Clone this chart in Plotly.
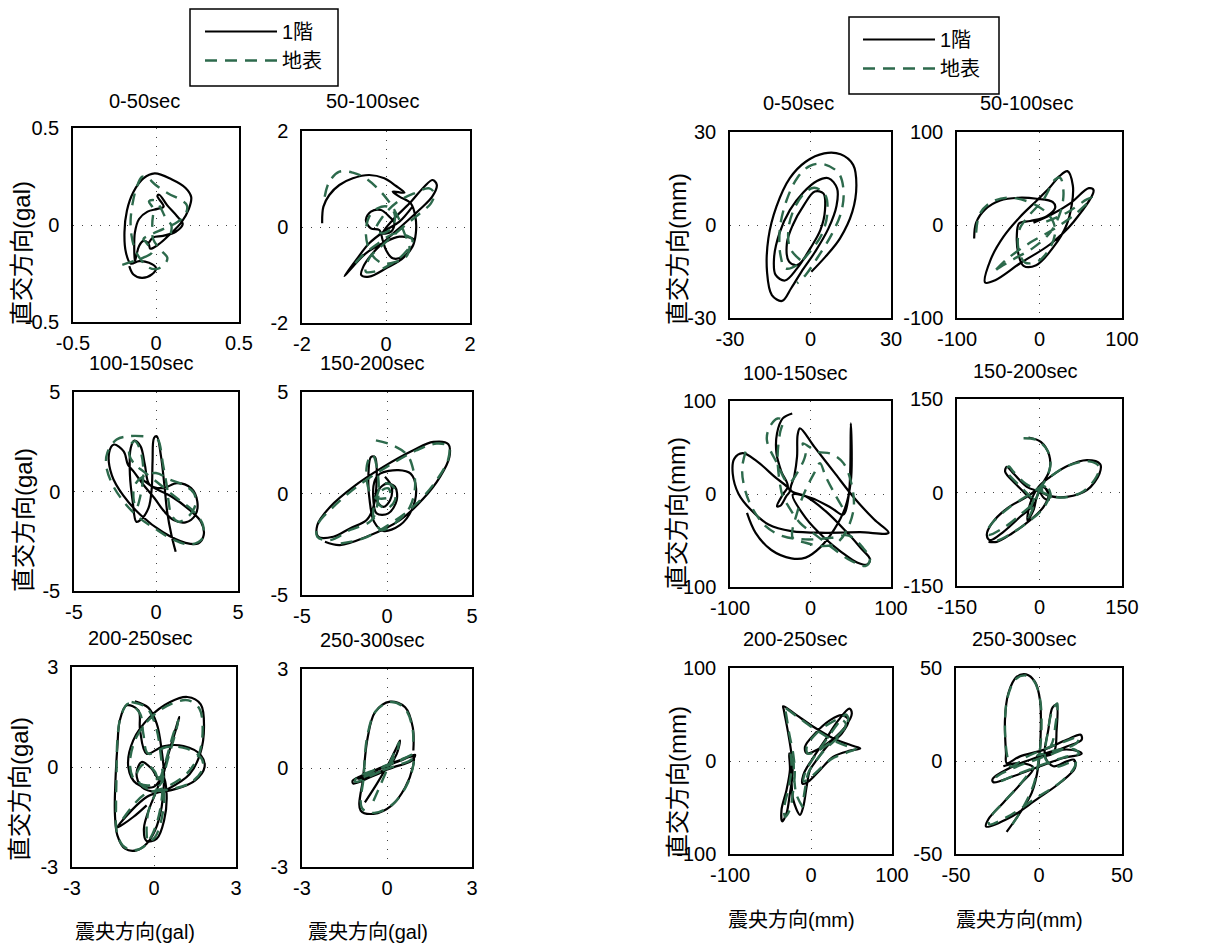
import plotly.graph_objects as go

W, H = 1230, 947
FONT = "Liberation Sans, Arial, Noto Sans CJK JP, sans-serif"
BLACK = "#000000"
GREEN = "#2d6a4c"

SERIES_NAMES = ["1階", "地表"]
TITLES = ["0-50sec", "50-100sec", "100-150sec", "150-200sec", "200-250sec", "250-300sec"]
Y_LABEL_ACC = "直交方向(gal)"
Y_LABEL_DISP = "直交方向(mm)"
X_LABEL_ACC = "震央方向(gal)"
X_LABEL_DISP = "震央方向(mm)"

ACC_LIMITS = [0.5, 2, 5, 5, 3, 3]
DISP_LIMITS = [30, 100, 100, 150, 100, 50]
ACC_TICKS = [["-0.5", "0", "0.5"], ["-2", "0", "2"], ["-5", "0", "5"],
             ["-5", "0", "5"], ["-3", "0", "3"], ["-3", "0", "3"]]
DISP_TICKS = [["-30", "0", "30"], ["-100", "0", "100"], ["-100", "0", "100"],
              ["-150", "0", "150"], ["-100", "0", "100"], ["-50", "0", "50"]]

# ---------------- acceleration orbits (gal) ----------------
ACC_0_50_FLOOR = [(-0.161,-0.212),(-0.136,-0.255),(-0.085,-0.273),(-0.025,-0.255),(0.0,-0.221),
    (-0.042,-0.194),(-0.102,-0.186),(-0.153,-0.198),(-0.181,-0.142),(-0.190,-0.038),(-0.175,0.075),
    (-0.136,0.170),(-0.076,0.240),(-0.008,0.266),(0.093,0.236),(0.178,0.191),(0.212,0.144),
    (0.198,0.083),(0.153,0.014),(0.085,-0.047),(0.017,-0.099),(-0.034,-0.122),(-0.046,-0.094),
    (-0.076,-0.082),(-0.102,-0.108),(-0.119,-0.160),(-0.127,-0.186),(-0.131,-0.125),(-0.127,-0.038),
    (-0.102,0.031),(-0.051,0.069),(0.008,0.083),(0.046,0.095),(0.008,0.149),(0.019,0.156),
    (0.068,0.101),(0.127,0.045),(0.161,0.005),(0.119,-0.035),(0.042,-0.056),(-0.017,-0.064),(-0.042,-0.090)]
ACC_0_50_GROUND = [(-0.203,-0.205),(-0.136,-0.186),(-0.076,-0.168),(-0.025,-0.142),(-0.059,-0.090),
    (-0.076,-0.073),(-0.025,-0.047),(0.042,-0.021),(0.127,0.014),(0.178,0.056),(0.186,0.101),
    (0.144,0.132),(0.076,0.161),(0.0,0.205),(-0.059,0.248),(-0.085,0.248),(-0.119,0.188),
    (-0.141,0.111),(-0.153,0.023),(-0.147,-0.056),(-0.127,-0.125),(-0.093,-0.177),(-0.042,-0.220),
    (0.008,-0.226),(0.059,-0.194),(0.068,-0.168),(0.034,-0.134),(-0.017,-0.073),(-0.022,0.014),
    (-0.017,0.083),(-0.042,0.122),(-0.005,0.127),(0.029,0.087),(0.056,0.040),(0.093,-0.003),(0.085,-0.056)]

ACC_50_100_FLOOR = [(-1.52,0.076),(-1.49,0.424),(-1.35,0.667),(-1.11,0.875),(-0.79,1.014),(-0.40,1.083),
    (-0.04,1.014),(0.24,0.854),(0.44,0.715),(0.16,0.736),(0.32,0.632),(0.59,0.493),(0.70,0.215),
    (0.71,-0.132),(0.63,-0.410),(0.44,-0.604),(0.16,-0.653),(0.0,-0.479),(-0.08,-0.271),(-0.16,-0.063),
    (-0.36,-0.028),(-0.48,0.146),(-0.36,0.319),(-0.12,0.354),(0.08,0.215),(0.20,0.076),(0.12,-0.097),
    (-0.08,-0.132),(0.16,0.146),(0.56,0.493),(0.91,0.840),(1.11,0.979),(1.21,0.875),(1.10,0.632),
    (0.79,0.354),(0.40,0.042),(0.0,-0.271),(-0.32,-0.549),(-0.54,-0.826),(-0.59,-1.0),(-0.40,-1.035),
    (0.0,-0.861),(0.44,-0.618),(0.67,-0.271),(0.32,-0.201),(-0.08,-0.340),(-0.48,-0.549),(-0.79,-0.826),
    (-0.99,-1.021),(-0.71,-0.688),(-0.40,-0.340),(0.0,-0.063),(0.32,0.111),(0.63,0.424)]
ACC_50_100_GROUND = [(-1.46,0.632),(-1.35,0.944),(-1.11,1.153),(-0.79,1.132),(-0.48,1.014),(-0.20,0.806),
    (0.04,0.563),(0.20,0.354),(0.32,0.146),(0.44,-0.132),(0.56,-0.410),(0.48,-0.618),(0.24,-0.722),
    (-0.08,-0.757),(-0.36,-0.549),(-0.48,-0.132),(-0.40,0.215),(-0.20,0.389),(0.04,0.424),(0.20,0.285),
    (0.16,0.007),(-0.08,-0.132),(-0.24,-0.063),(-0.08,0.215),(0.28,0.528),(0.67,0.701),(1.03,0.806),
    (1.15,0.701),(1.07,0.493),(0.71,0.215),(0.32,-0.063),(-0.08,-0.375),(-0.40,-0.653),(-0.48,-0.931),
    (-0.28,-0.931),(0.08,-0.792),(0.44,-0.549),(0.63,-0.271),(0.24,-0.132),(-0.24,-0.375),(-0.63,-0.653),
    (-0.79,-0.826)]

ACC_100_150_FLOOR = [(1.20,-3.03),(0.94,-2.19),(0.68,-1.01),(0.51,0.34),(0.29,1.85),(0.05,2.78),
    (-0.12,2.69),(-0.21,1.52),(-0.26,0.17),(-0.46,-0.84),(-0.94,-1.43),(-1.20,-1.52),(-1.42,-0.51),
    (-1.59,0.84),(-1.54,2.19),(-1.32,2.56),(-0.94,2.27),(-0.68,1.35),(-0.39,0.34),(0.43,0.17),
    (1.28,0.42),(2.14,0.17),(2.52,-0.51),(2.40,-1.18),(1.80,-1.55),(1.11,-1.45),(0.51,-1.01),
    (-0.09,-0.34),(-0.77,0.34),(-1.37,1.01),(-1.71,1.35),(-1.97,2.02),(-2.57,2.36),(-2.86,1.94),
    (-2.69,0.81),(-2.00,-0.20),(-0.94,-1.18),(0.43,-2.05),(1.80,-2.58),(2.57,-2.61),(2.91,-2.19),
    (2.74,-1.52),(2.05,-0.93),(0.94,-0.25),(-0.09,0.17),(-0.94,0.67)]
ACC_100_150_GROUND = [(-0.77,2.78),(-1.63,2.78),(-2.40,2.61),(-2.97,1.94),(-3.03,1.26),(-2.65,0.34),
    (-1.97,-0.51),(-1.11,-1.26),(-0.09,-1.85),(1.11,-2.44),(2.14,-2.66),(2.83,-2.36),(2.86,-1.68),
    (2.31,-1.01),(1.28,-0.34),(0.26,0.34),(-0.77,1.01),(-1.28,1.35),(-1.63,1.85),(-1.54,2.36),
    (-1.28,2.53),(-0.94,2.02),(-0.77,1.01),(-0.94,-0.17),(-1.20,-0.84),(-1.37,-0.34),(-1.28,0.34),
    (-0.77,0.76),(0.0,0.93),(0.86,0.59),(1.63,0.34),(2.31,-0.08),(2.40,-0.67),(1.97,-1.26),
    (1.37,-1.52),(0.94,-1.18),(0.77,-0.51),(0.68,0.17),(0.43,1.35),(0.17,2.53),(0.0,2.69)]

ACC_150_200_FLOOR = [(-0.12,0.82),(0.27,0.33),(0.18,-0.33),(-0.22,-0.66),(-0.61,-0.33),(-0.51,0.16),
    (-0.02,0.49),(0.47,0.33),(0.57,-0.33),(0.08,-0.98),(-0.61,-0.98),(-0.80,-0.33),(-0.71,0.66),
    (-0.41,0.98),(0.67,1.15),(1.39,0.98),(1.71,0.25),(1.45,-0.82),(0.76,-1.56),(-0.22,-1.84),
    (-0.76,-1.39),(-1.00,-0.49),(-1.10,0.66),(-0.94,1.80),(-0.71,1.80),(-0.61,0.66),(-0.80,-0.66),
    (-1.20,-1.31),(-2.18,-1.72),(-3.16,-2.13),(-4.04,-2.13),(-4.10,-1.56),(-3.35,-0.66),(-1.98,0.33),
    (-0.22,1.31),(1.55,2.13),(2.73,2.54),(3.61,2.43),(3.67,1.80),(3.12,0.82),(2.14,-0.25),(0.76,-1.31),
    (-1.20,-2.13),(-2.77,-2.54),(-3.65,-2.38)]
ACC_150_200_GROUND = [(-0.65,2.62),(0.37,2.36),(1.20,1.89),(1.55,1.15),(1.65,0.33),(1.35,-0.66),
    (0.57,-1.39),(-0.31,-1.80),(-0.80,-1.15),(-0.61,-0.16),(-0.22,0.49),(0.37,0.33),(0.47,-0.33),
    (-0.02,-0.74),(-0.51,-0.49),(-0.41,0.08),(0.08,0.25),(0.18,-0.16),(-0.80,-0.16),(-1.20,0.66),
    (-1.10,1.64),(-0.84,1.89),(-0.57,1.15),(-0.51,-0.16),(-0.90,-1.31),(-2.18,-1.80),(-3.35,-2.30),
    (-4.10,-2.13),(-4.04,-1.48),(-3.16,-0.66),(-1.78,0.33),(-0.02,1.31),(1.75,2.13),(2.92,2.46),
    (3.61,2.33),(3.61,1.72),(2.92,0.66),(1.75,-0.49),(0.37,-1.39),(-1.39,-2.21),(-2.96,-2.49)]

ACC_200_250_FLOOR = [(-0.70,1.97),(-0.21,1.78),(0.10,1.30),(0.28,0.50),(0.37,-0.30),(0.28,-1.20),
    (0.04,-1.90),(-0.27,-2.30),(-0.64,-2.50),(-1.06,-2.45),(-1.34,-2.05),(-1.43,-1.40),(-1.41,-0.40),
    (-1.34,0.60),(-1.25,1.40),(-1.00,1.85),(-0.57,1.70),(-0.51,1.10),(-0.27,0.40),(0.34,0.62),
    (1.08,0.63),(1.72,0.35),(1.85,0.0),(1.51,-0.40),(0.83,-0.65),(0.10,-0.75),(-0.45,-0.60),
    (-0.64,-0.20),(-0.45,0.15),(-0.09,-0.05),(0.22,-0.40),(0.53,0.40),(0.83,1.20),(0.93,1.50),
    (0.81,1.20),(0.46,0.20),(0.10,-0.70),(-0.15,-1.20),(-0.37,-1.85),(-0.27,-2.22),(0.10,-2.15),
    (0.37,-1.60),(0.46,-0.80),(0.34,-0.30),(-0.02,-0.60),(-0.64,-0.50),(-0.94,0.0),(-0.76,0.80),
    (-0.15,1.50),(0.59,1.95),(1.22,2.10),(1.71,1.88),(1.83,1.20),(1.69,0.40),(1.30,-0.22),(0.53,-0.65),
    (-0.27,-0.90),(-1.25,-1.70),(-1.34,-1.82),(-0.76,-1.50),(-0.27,-1.15)]
ACC_200_250_GROUND = [(-0.82,1.95),(-0.27,1.78),(0.07,1.20),(0.24,0.40),(0.32,-0.40),(0.22,-1.30),
    (-0.05,-2.00),(-0.39,-2.40),(-0.76,-2.50),(-1.15,-2.35),(-1.37,-1.90),(-1.39,-1.20),(-1.37,-0.20),
    (-1.34,0.80),(-1.22,1.50),(-0.94,1.90),(-0.51,1.60),(-0.39,1.00),(-0.21,0.40),(0.46,0.60),
    (1.20,0.55),(1.74,0.25),(1.78,-0.05),(1.38,-0.45),(0.71,-0.65),(-0.02,-0.70),(-0.51,-0.50),
    (-0.61,-0.15),(-0.33,0.10),(0.04,-0.15),(0.20,-0.55),(0.53,0.30),(0.81,1.10),(0.89,1.40),
    (0.71,1.00),(0.40,0.10),(0.04,-0.80),(-0.21,-1.35),(-0.27,-1.95),(-0.21,-2.25),(0.04,-2.10),
    (0.28,-1.55),(0.37,-0.80),(0.22,-0.30),(-0.15,-0.55),(-0.70,-0.40),(-0.88,0.10),(-0.64,0.90),
    (-0.02,1.55),(0.71,1.92),(1.26,2.00),(1.66,1.75),(1.78,1.10),(1.63,0.35),(1.20,-0.20),(0.46,-0.60),
    (-0.39,-0.85),(-1.18,-1.60),(-1.30,-1.75)]

ACC_250_300_FLOOR = [(-0.78,-1.04),(-0.36,-0.48),(0.05,0.12),(0.40,0.73),(0.46,0.83),(0.34,0.42),
    (-0.01,-0.03),(-0.60,-0.28),(-1.19,-0.47),(-1.21,-0.38),(-0.60,-0.13),(0.11,0.12),(0.69,0.32),
    (0.99,0.40),(0.87,0.22),(0.22,0.02),(-0.48,-0.18),(-1.01,-0.33),(-0.95,-0.26),(-0.25,-0.03),
    (0.46,0.22),(0.93,0.34),(0.91,0.02),(0.64,-0.59),(0.16,-1.14),(-0.48,-1.39),(-0.93,-1.29),
    (-0.84,-0.28),(-0.68,0.93),(-0.42,1.69),(0.11,2.01),(0.64,1.84),(0.91,1.23),(0.93,0.53)]
ACC_250_300_GROUND = [(-0.48,-1.00),(-0.20,-0.45),(0.10,0.15),(0.38,0.70),(0.43,0.78),(0.30,0.40),
    (-0.05,0.0),(-0.60,-0.25),(-1.12,-0.42),(-1.10,-0.33),(-0.55,-0.10),(0.15,0.14),(0.70,0.33),
    (0.97,0.43),(0.85,0.25),(0.25,0.05),(-0.45,-0.15),(-0.95,-0.30),(-0.90,-0.22),(-0.20,0.0),
    (0.50,0.24),(0.92,0.38),(0.92,0.05),(0.68,-0.55),(0.20,-1.10),(-0.45,-1.36),(-0.88,-1.22),
    (-0.82,-0.25),(-0.70,0.95),(-0.40,1.72),(0.12,2.0),(0.62,1.82),(0.90,1.20),(0.92,0.60)]

# ---------------- displacement orbits (mm) ----------------
DISP_0_50_FLOOR = [(-1.8,-10.2),(-5.0,-12.9),(-8.0,-11.8),(-8.8,-5.9),(-6.6,0.0),(-2.4,6.5),(1.6,10.8),
    (4.8,10.2),(5.4,4.8),(3.7,-1.6),(0.1,-7.3),(-5.0,-14.0),(-9.5,-17.9),(-13.0,-16.1),(-13.6,-10.8),
    (-11.6,-2.7),(-7.7,4.8),(-2.7,10.5),(2.4,14.2),(6.7,15.1),(9.9,11.8),(9.7,6.2),(6.7,-1.1),
    (1.6,-8.8),(-3.4,-15.1),(-7.2,-20.4),(-10.6,-24.5),(-14.4,-22.6),(-16.2,-15.1),(-15.7,-4.3),
    (-12.7,5.9),(-7.7,15.1),(-1.8,20.4),(5.1,23.1),(11.2,22.8),(15.9,19.4),(17.1,12.9),(15.6,4.3),
    (11.0,-4.3),(5.6,-10.2),(0.3,-15.1)]
DISP_0_50_GROUND = [(-3.8,-11.3),(-7.6,-7.5),(-8.2,-1.1),(-6.0,5.4),(-2.3,10.2),(1.4,12.0),(5.5,9.7),
    (6.2,3.2),(4.1,-3.2),(-0.2,-8.6),(-5.0,-12.9),(-9.3,-14.0),(-11.2,-9.7),(-11.4,-1.1),(-9.1,7.5),
    (-5.0,15.1),(-0.2,19.1),(5.1,19.6),(10.5,16.7),(12.3,11.3),(11.5,4.3),(7.8,-3.2),(2.4,-10.8),
    (-1.8,-16.1),(-5.0,-18.8)]

DISP_50_100_FLOOR = [(-79.2,-14.6),(-76.8,2.5),(-65.9,16.8),(-47.7,26.4),(-25.5,29.3),(-3.2,28.2),
    (16.2,24.6),(19.0,18.6),(8.9,9.6),(-11.3,4.3),(-24.6,1.8),(-27.5,-11.8),(-25.5,-31.4),(-19.4,-43.9),
    (-4.0,-43.2),(17.0,-23.6),(32.3,-1.1),(39.2,22.1),(40.4,42.5),(33.9,57.9),(24.2,52.5),(12.1,40.0),
    (-3.2,26.4),(-23.4,8.9),(-43.6,-12.5),(-59.0,-36.8),(-65.9,-61.8),(-53.7,-59.3),(-23.4,-41.1),
    (12.9,-20.7),(41.2,3.2),(65.5,37.5),(59.8,39.6),(37.2,23.2),(12.9,10.4),(-7.3,2.5)]
DISP_50_100_GROUND = [(-76.8,-8.2),(-72.7,11.4),(-59.8,23.9),(-39.6,29.3),(-15.4,25.7),(0.8,18.6),
    (10.9,11.4),(17.0,2.5),(19.0,-8.2),(12.9,-24.3),(-1.2,-38.6),(-17.4,-40.4),(-25.5,-26.1),
    (-24.2,-4.6),(-13.3,9.6),(4.8,27.5),(18.9,48.9),(25.1,50.7),(29.1,34.6),(25.1,13.2),(12.9,-8.2),
    (-7.3,-24.3),(-31.5,-36.8),(-51.7,-47.5),(-55.8,-51.1),(-39.6,-36.8),(-11.3,-18.9),(17.0,-4.6),
    (45.3,13.2),(63.4,29.3),(57.4,27.5),(33.1,13.2),(4.8,2.5)]

DISP_100_150_FLOOR = [(-22.7,86.6),(-34.5,81.3),(-41.6,65.2),(-42.3,43.9),(-36.2,24.2),(-28.1,8.2),
    (-34.5,-0.7),(-41.6,-13.2),(-37.3,-12.5),(-30.2,-2.5),(-25.6,3.6),(-45.1,18.9),(-66.4,35.0),
    (-84.2,43.9),(-94.8,37.8),(-96.6,21.8),(-89.5,0.4),(-73.5,-17.5),(-52.2,-32.8),(-23.8,-39.9),
    (18.8,-41.7),(61.5,-41.0),(97.0,-41.7),(79.2,-27.5),(54.4,-4.3),(29.5,23.2),(4.6,51.0),(-13.1,70.6),
    (-16.0,63.4),(-16.7,40.1),(-20.2,18.9),(-24.5,3.9),(-6.0,-2.5),(18.8,-18.5),(43.7,-39.9),
    (63.2,-58.8),(73.9,-70.2),(70.3,-75.9),(57.9,-73.7),(38.4,-62.4),(17.1,-47.1),(-6.0,-25.7),
    (-22.0,-0.7),(1.1,-4.3),(26.0,-15.0),(40.9,-22.1),(47.3,-2.5),(49.4,26.0),(50.1,75.9),(51.2,43.9),
    (50.1,13.6),(43.0,-15.0),(29.5,-38.1),(11.7,-57.7),(-6.0,-68.4),(-23.8,-69.2),(-48.7,-60.2),
    (-68.2,-41.7),(-78.9,-20.3)]
DISP_100_150_GROUND = [(-80.6,45.6),(-84.9,27.8),(-82.4,8.2),(-73.5,-13.2),(-55.8,-34.6),(-34.5,-45.3),
    (-6.0,-48.8),(25.9,-47.1),(47.3,-44.6),(65.1,-57.8),(74.0,-70.2),(68.7,-77.4),(50.9,-72.0),
    (29.5,-59.5),(8.2,-45.3),(-13.1,-31.0),(-27.4,-13.2),(-34.5,-2.5),(-38.7,15.3),(-40.9,40.3),
    (-38.0,65.2),(-34.5,79.4),(-40.9,81.2),(-50.6,72.3),(-54.2,58.1),(-41.7,33.2),(-27.4,11.8),
    (-16.7,22.5),(-6.0,43.9),(-9.6,54.5),(8.2,45.6),(26.0,43.1),(40.9,33.2),(50.9,11.1),(53.7,-15.0),
    (45.5,-38.1),(33.0,-52.4),(15.3,-56.0),(-6.0,-52.4),(-22.0,-47.1),(-16.7,-20.3),(-6.0,4.6),
    (4.6,22.5),(11.7,33.2),(18.8,18.9),(29.5,1.1),(43.7,-20.3)]

DISP_150_200_FLOOR = [(-20.0,88.2),(2.4,81.3),(17.6,59.9),(18.2,35.8),(7.3,17.1),(0.0,6.4),(6.1,-7.0),
    (16.4,-12.3),(14.5,1.1),(6.1,9.1),(-4.8,-7.0),(-10.9,-28.3),(-21.8,-44.4),(-17.0,-17.6),(-1.8,9.1),
    (19.4,25.1),(49.7,42.2),(86.1,51.9),(110.3,45.5),(109.1,30.5),(86.1,3.7),(49.7,-7.0),(19.4,-5.9),
    (1.2,1.1),(-23.0,9.1),(-47.3,30.5),(-59.4,41.2),(-62.4,33.2),(-44.2,14.4),(-26.1,-1.6),
    (-10.9,-17.6),(-35.2,-39.0),(-65.5,-63.1),(-89.7,-76.5),(-95.8,-68.4),(-86.7,-49.7),(-59.4,-25.7),
    (-23.0,-7.0),(6.1,9.1),(16.4,-1.6),(7.3,-23.0),(-17.0,-44.4),(-50.3,-65.8),(-77.6,-79.1),(-92.7,-79.1)]
DISP_150_200_GROUND = [(-29,87),(-5,84),(14,68),(20,45),(12,22),(4,8),(10,-6),(20,-8),(16,6),(2,6),
    (-6,-10),(-14,-30),(-20,-40),(-12,-15),(2,10),(24,28),(55,44),(90,50),(108,42),(104,26),(80,2),
    (45,-8),(16,-4),(-2,4),(-25,14),(-48,34),(-56,42),(-60,35),(-42,16),(-24,0),(-12,-14),(-38,-38),
    (-68,-58),(-93,-68),(-94,-60),(-82,-45),(-55,-24),(-20,-4),(8,10),(18,-2),(8,-24),(-16,-44),
    (-48,-64),(-80,-78),(-90,-76)]

DISP_200_250_FLOOR = [(-13.6,-57.9),(-21.9,-41.8),(-24.0,-20.4),(-24.0,1.1),(-26.9,8.2),(-26.0,-9.6),
    (-30.2,-31.1),(-36.4,-52.5),(-35.5,-65.0),(-30.2,-56.1),(-26.0,-34.6),(-22.7,-13.2),(-24.0,6.4),
    (-28.1,29.6),(-33.5,54.6),(-34.3,58.9),(-17.8,49.3),(2.9,36.8),(27.7,24.3),(52.5,16.1),(60.7,13.6),
    (48.3,11.1),(27.7,4.6),(11.2,-9.6),(-3.3,-22.1),(-10.3,-24.6),(-9.5,-15.0),(0.8,1.1),(17.4,22.5),
    (33.9,43.9),(47.5,56.4),(50.4,51.1),(42.1,36.8),(25.6,22.5),(7.0,11.8),(-5.4,8.2),(-7.4,15.4),
    (5.0,29.6),(23.6,43.9),(38.0,49.3),(46.3,43.9),(38.0,29.6),(19.4,15.4),(7.0,1.1),(-1.2,-9.6),
    (-5.4,-27.5),(-9.5,-48.9),(-13.6,-57.9)]
DISP_200_250_GROUND = [(-10,-50),(-18,-36),(-21,-15),(-22,4),(-25,10),(-24,-8),(-28,-30),(-33,-50),
    (-32,-60),(-26,-52),(-22,-32),(-20,-12),(-22,8),(-27,30),(-32,55),(-34,58),(-16,47),(5,34),(28,22),
    (48,15),(55,13),(44,9),(25,2),(9,-10),(-4,-20),(-9,-22),(-7,-12),(3,3),(19,23),(33,40),(43,50),
    (46,46),(40,34),(24,20),(6,10),(-4,8),(-5,16),(7,30),(24,41),(36,45),(43,40),(35,27),(18,13),
    (6,0),(-3,-12),(-7,-28),(-10,-45)]

DISP_250_300_FLOOR = [(-19.5,-38.1),(-11.4,-27.8),(-4.4,-17.1),(-0.4,-2.8),(1.0,14.9),(0.6,32.7),
    (-2.4,42.5),(-7.8,46.6),(-13.5,45.2),(-18.5,36.3),(-20.5,22.1),(-19.9,4.3),(-19.5,-1.1),(-11.4,2.5),
    (2.6,6.0),(16.7,11.4),(25.1,14.1),(25.7,11.4),(16.7,7.8),(0.6,2.5),(-15.5,-2.8),(-27.9,-9.6),
    (-27.5,-11.4),(-15.5,-8.2),(0.6,-2.8),(14.7,1.6),(25.7,3.9),(23.7,5.2),(12.7,6.0),(-1.4,2.5),
    (8.6,4.3),(10.6,16.7),(10.6,30.1),(8.2,28.8),(5.6,16.7),(3.6,2.5),(8.6,-2.8),(16.7,-0.2),
    (21.1,0.7),(21.7,-3.7),(12.7,-11.7),(-1.4,-20.6),(-17.5,-30.4),(-31.9,-35.2),(-30.5,-31.3),
    (-21.5,-22.4),(-11.4,-12.6),(-3.4,-3.7),(-11.4,-1.1),(-21.5,-2.8)]
DISP_250_300_GROUND = [(-16,-34),(-9,-24),(-3,-12),(0,2),(1.5,18),(0.5,34),(-3,43),(-8,46),(-14,44),
    (-19,34),(-20.5,18),(-19,2),(-17,-3),(-8,2),(5,7),(17,11),(24,13),(23,10),(14,6),(-1,1),(-16,-4),
    (-26,-9),(-25,-11),(-13,-7),(2,-2),(15,2),(24,4),(22,6),(11,6),(-1,3),(7,8),(10,20),(11,31),(8,27),
    (5,14),(4,1),(10,-3),(18,-1),(22,0),(21,-4),(12,-12),(-2,-20),(-17,-29),(-30,-34),(-29,-30),
    (-20,-21),(-10,-11),(-3,-3)]

ACC_FLOOR = [ACC_0_50_FLOOR, ACC_50_100_FLOOR, ACC_100_150_FLOOR, ACC_150_200_FLOOR, ACC_200_250_FLOOR, ACC_250_300_FLOOR]
ACC_GROUND = [ACC_0_50_GROUND, ACC_50_100_GROUND, ACC_100_150_GROUND, ACC_150_200_GROUND, ACC_200_250_GROUND, ACC_250_300_GROUND]
DISP_FLOOR = [DISP_0_50_FLOOR, DISP_50_100_FLOOR, DISP_100_150_FLOOR, DISP_150_200_FLOOR, DISP_200_250_FLOOR, DISP_250_300_FLOOR]
DISP_GROUND = [DISP_0_50_GROUND, DISP_50_100_GROUND, DISP_100_150_GROUND, DISP_150_200_GROUND, DISP_200_250_GROUND, DISP_250_300_GROUND]

# ---------------- layout geometry (pixels) ----------------
ACC_BOXES = [(73, 239, 128, 322), (302, 470, 131, 323), (74, 238, 392, 591),
             (302, 472, 392, 595), (72, 236, 667, 867), (302, 472, 669, 867)]
DISP_BOXES = [(730, 891, 132, 318), (957, 1122, 132, 318), (730, 891, 401, 587),
              (957, 1122, 399, 586), (730, 892, 668, 854), (956, 1122, 668, 854)]
ACC_TITLE_POS = [(144, 101), (373, 101), (141, 363), (372, 363), (140, 638), (372, 640)]
DISP_TITLE_POS = [(799, 103), (1026, 103), (796, 373), (1025, 371), (796, 639), (1024, 639)]
ACC_YLAB_POS = [(22, 253), (23, 520), (19, 789)]
DISP_YLAB_POS = [(677, 249), (676, 513), (677, 782)]
ACC_XLAB_POS = [(135, 932), (368, 932)]
DISP_XLAB_POS = [(791, 920), (1019, 920)]
LEGEND_BOXES = [(190, 338, 9, 86), (849, 999, 17, 94)]


def px(x):
    return x / W


def py(y):
    return 1 - y / H


fig = go.Figure()
layout = dict(width=W, height=H, margin=dict(l=0, r=0, t=0, b=0, autoexpand=False),
              paper_bgcolor="white", plot_bgcolor="white",
              font=dict(family=FONT, size=20, color="black"))
annotations = []
shapes = []

groups = [
    (ACC_FLOOR, ACC_GROUND, ACC_LIMITS, ACC_TICKS, ACC_BOXES, ACC_TITLE_POS, "legend"),
    (DISP_FLOOR, DISP_GROUND, DISP_LIMITS, DISP_TICKS, DISP_BOXES, DISP_TITLE_POS, "legend2"),
]

idx = 0
for floor_list, ground_list, limits, ticks, boxes, tpos, legname in groups:
    for k in range(6):
        idx += 1
        sfx = "" if idx == 1 else str(idx)
        x0, x1, y0, y1 = boxes[k]
        lim = limits[k]
        axis_common = dict(range=[-lim, lim], tickvals=[-lim, 0, lim], ticktext=ticks[k],
                           showgrid=True, gridcolor="#444", griddash="1px,8px", gridwidth=1,
                           zeroline=False, showline=True, mirror=True, linecolor="black",
                           linewidth=1.5, ticks="", fixedrange=True, automargin=False,
                           tickfont=dict(family=FONT, size=20, color="black"))
        layout["xaxis" + sfx] = dict(axis_common, domain=[px(x0), px(x1)], anchor="y" + sfx,
                                     ticklabelstandoff=2)
        layout["yaxis" + sfx] = dict(axis_common, domain=[py(y1), py(y0)], anchor="x" + sfx,
                                     ticklabelstandoff=8)
        for data, name, color, dash in ((floor_list[k], SERIES_NAMES[0], BLACK, "solid"),
                                        (ground_list[k], SERIES_NAMES[1], GREEN, "12px,8px")):
            fig.add_trace(go.Scatter(
                x=[p[0] for p in data], y=[p[1] for p in data], mode="lines",
                line=dict(color=color, width=2.2 if color == BLACK else 2.4, dash=dash,
                          shape="spline", smoothing=1.0),
                name=name, legend=legname,
                showlegend=(k == 0), xaxis="x" + sfx, yaxis="y" + sfx, hoverinfo="skip"))
        tx, ty = tpos[k]
        annotations.append(dict(text=TITLES[k], x=px(tx), y=py(ty), xref="paper", yref="paper",
                                showarrow=False, xanchor="center", yanchor="middle",
                                font=dict(family=FONT, size=20)))

for (x, y) in ACC_YLAB_POS:
    annotations.append(dict(text=Y_LABEL_ACC, x=px(x), y=py(y), xref="paper", yref="paper",
                            showarrow=False, textangle=-90, xanchor="center", yanchor="middle",
                            font=dict(family=FONT, size=24)))
for (x, y) in DISP_YLAB_POS:
    annotations.append(dict(text=Y_LABEL_DISP, x=px(x), y=py(y), xref="paper", yref="paper",
                            showarrow=False, textangle=-90, xanchor="center", yanchor="middle",
                            font=dict(family=FONT, size=24)))
for (x, y) in ACC_XLAB_POS:
    annotations.append(dict(text=X_LABEL_ACC, x=px(x), y=py(y), xref="paper", yref="paper",
                            showarrow=False, xanchor="center", yanchor="middle",
                            font=dict(family=FONT, size=20)))
for (x, y) in DISP_XLAB_POS:
    annotations.append(dict(text=X_LABEL_DISP, x=px(x), y=py(y), xref="paper", yref="paper",
                            showarrow=False, xanchor="center", yanchor="middle",
                            font=dict(family=FONT, size=20)))

# legend frames
for (bx0, bx1, by0, by1) in LEGEND_BOXES:
    shapes.append(dict(type="rect", xref="paper", yref="paper", x0=px(bx0), x1=px(bx1),
                       y0=py(by1), y1=py(by0), line=dict(color="black", width=1.5),
                       fillcolor="white", layer="below"))

legend_common = dict(xanchor="left", yanchor="top", bgcolor="rgba(0,0,0,0)",
                     borderwidth=0, font=dict(family=FONT, size=20), itemwidth=72,
                     traceorder="normal", itemclick=False, itemdoubleclick=False)
layout["legend"] = dict(legend_common, x=px(200), y=py(12))
layout["legend2"] = dict(legend_common, x=px(858), y=py(20))
layout["annotations"] = annotations
layout["shapes"] = shapes
fig.update_layout(**layout)

fig.write_html("out.html", config={"displayModeBar": False},
               post_script="document.body.style.margin='0';document.body.style.overflow='hidden';")
